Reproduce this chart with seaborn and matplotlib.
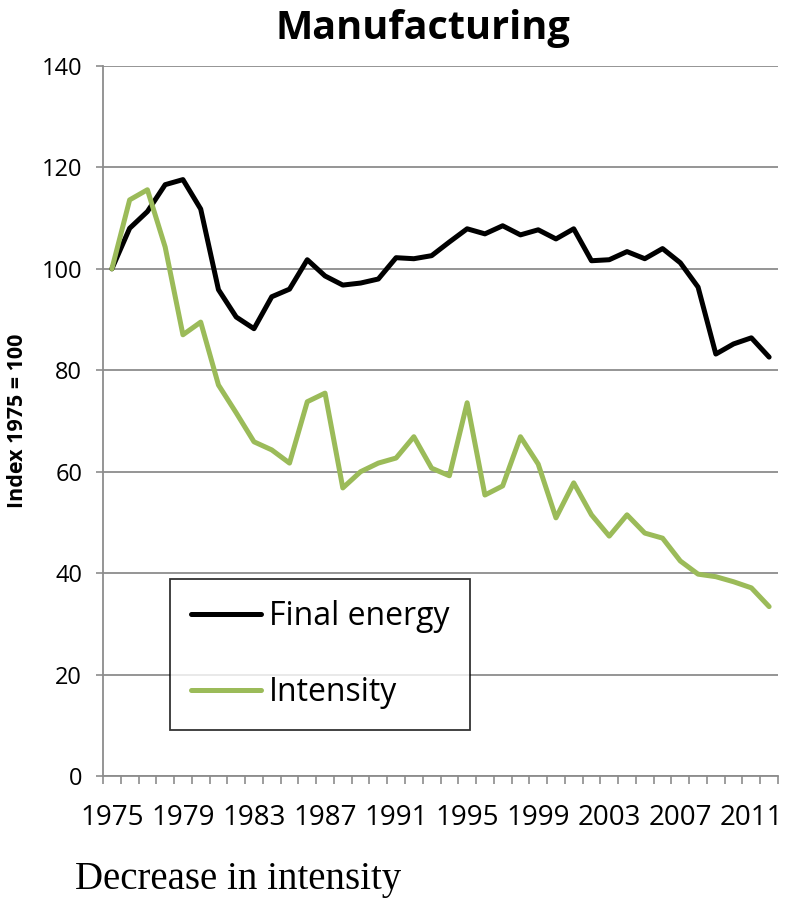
import matplotlib
matplotlib.use('Agg')
import matplotlib.pyplot as plt
import seaborn as sns
import numpy as np
import pandas as pd
from matplotlib.ticker import FixedLocator

years = list(range(1975, 2013))
final_energy = [100, 108, 111.3, 116.6, 117.6, 111.8, 95.9, 90.5, 88.2, 94.5,
                96, 101.8, 98.6, 96.8, 97.2, 98, 102.2, 102, 102.6, 105.3,
                107.9, 106.9, 108.5, 106.7, 107.7, 105.9, 107.9, 101.6, 101.8, 103.4,
                102, 104, 101.2, 96.4, 83.2, 85.2, 86.4, 82.6]
intensity = [100, 113.6, 115.6, 104.3, 87, 89.5, 77.1, 71.6, 65.9, 64.3,
             61.7, 73.8, 75.5, 56.8, 60, 61.7, 62.7, 66.9, 60.7, 59.2,
             73.6, 55.4, 57.2, 66.9, 61.5, 50.9, 57.8, 51.5, 47.3, 51.5,
             47.9, 46.9, 42.4, 39.8, 39.3, 38.3, 37.1, 33.4]
series_names = ["Final energy", "Intensity"]
series_colors = {"Final energy": "#000000", "Intensity": "#9BBB59"}
year_labels = list(range(1975, 2012, 4))
y_ticks = [0, 20, 40, 60, 80, 100, 120, 140]

df = pd.DataFrame({
    "year": years * 2,
    "value": final_energy + intensity,
    "series": [series_names[0]] * len(years) + [series_names[1]] * len(years),
})

sns.set_theme(style="white", rc={"text.color": "black", "axes.labelcolor": "black",
                                 "xtick.color": "black", "ytick.color": "black"})
plt.rcParams["font.family"] = ["Open Sans", "DejaVu Sans"]

fig = plt.figure(figsize=(7.92, 9), dpi=100)
ax = fig.add_axes([103 / 792, 124 / 900, 675 / 792, 710 / 900])

sns.lineplot(data=df, x="year", y="value", hue="series", palette=series_colors,
             linewidth=3.6, ax=ax)

grey = "#8c8c8c"
ax.set_xlim(1974.5, 2012.5)
ax.set_ylim(0, 140)
ax.set_yticks(y_ticks)
ax.yaxis.grid(True, color=grey, linewidth=1.3)
ax.set_axisbelow(True)
for s in ["top", "right"]:
    ax.spines[s].set_visible(False)
for s in ["left", "bottom"]:
    ax.spines[s].set_color(grey)
    ax.spines[s].set_linewidth(1.3)

ax.set_xticks(year_labels)
ax.set_xticklabels([str(y) for y in year_labels])
ax.xaxis.set_minor_locator(FixedLocator(np.arange(1974.5, 2013, 1)))
ax.tick_params(axis="x", which="major", length=0, pad=20, labelsize=20, labelcolor="black")
ax.tick_params(axis="x", which="minor", bottom=True, length=6, width=1.2, color=grey)
ax.tick_params(axis="y", which="major", left=True, length=5, width=1.2, color=grey,
               pad=10, labelsize=17, labelcolor="black")

ax.set_xlabel("")
ax.set_ylabel("Index 1975 = 100", fontsize=15.5, fontweight="bold", labelpad=10)

handles, labels = ax.get_legend_handles_labels()
leg = ax.legend(handles, labels, loc="lower left", bbox_to_anchor=(0.099, 0.065),
                borderaxespad=0, fontsize=23, frameon=True, fancybox=False,
                edgecolor="black", handlelength=2.2, handletextpad=0.25,
                labelspacing=1.35, borderpad=0.65)
leg.get_frame().set_linewidth(1.3)
for h in leg.get_lines():
    h.set_linewidth(3.6)

fig.text(423 / 792, 1 - 28 / 900, "Manufacturing", ha="center", va="center",
         fontsize=28.5, fontweight="bold")
fig.text(75 / 792, 1 - 880 / 900, "Decrease in intensity", ha="left", va="center",
         fontsize=28, family=["Liberation Serif", "DejaVu Serif"])

fig.savefig("out.png", dpi=100)
